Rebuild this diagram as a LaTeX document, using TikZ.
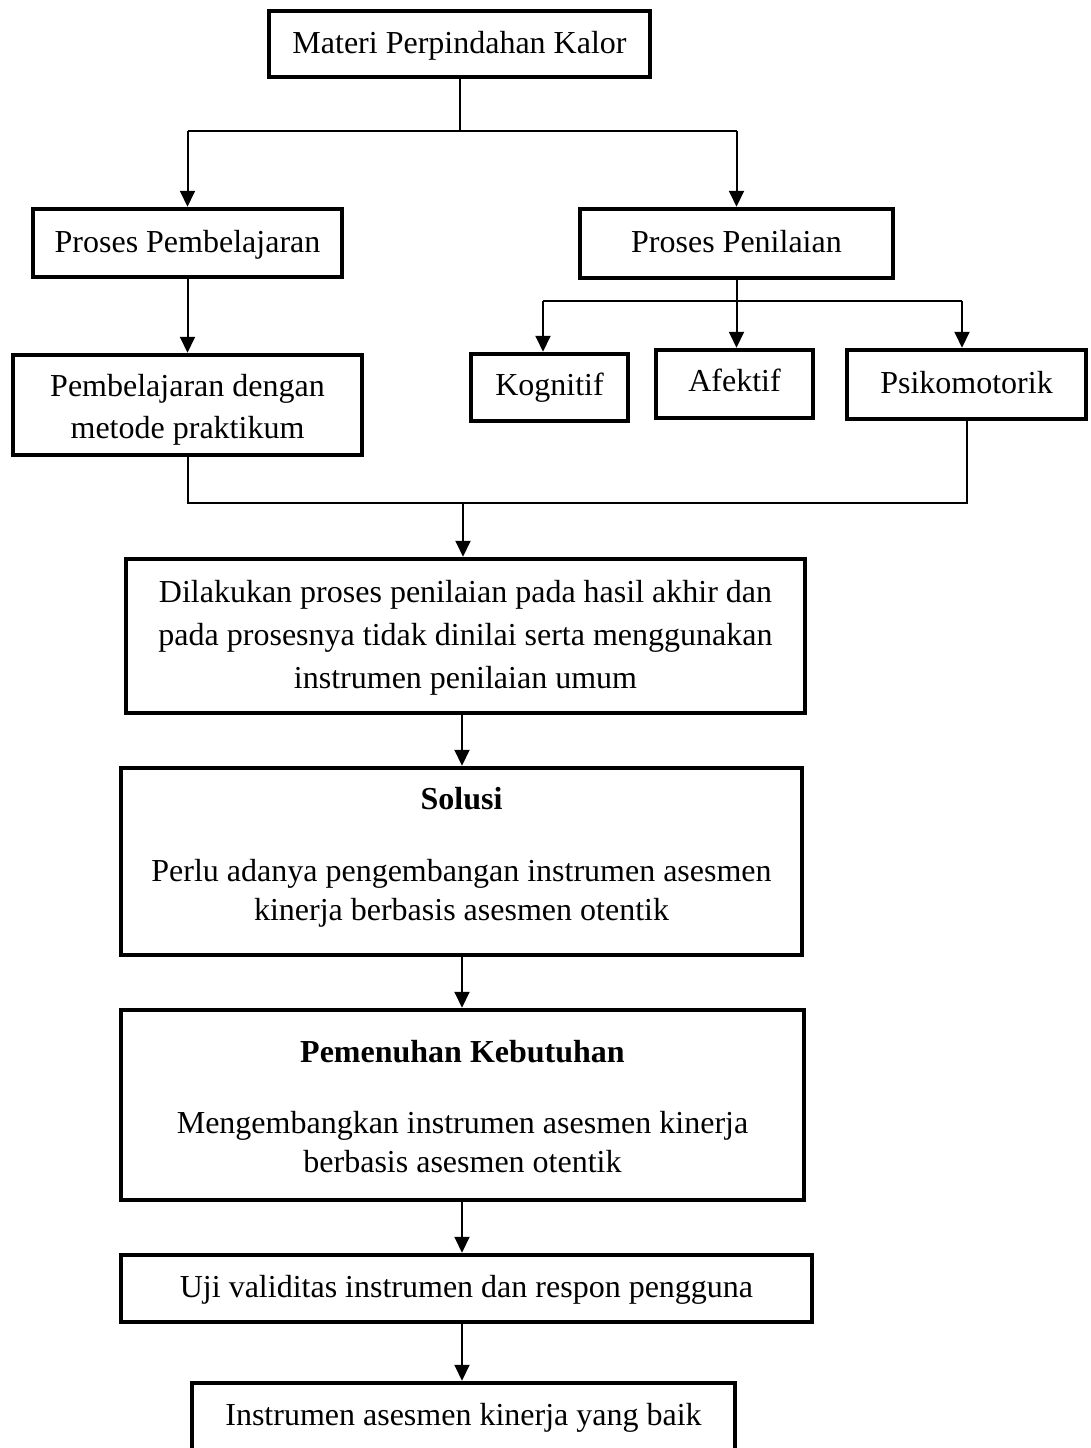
\documentclass[tikz,border=0pt]{standalone}
\usepackage{fontspec}
\setmainfont{Liberation Serif}
\usetikzlibrary{arrows.meta}
\tikzset{
  boxnode/.style={draw, line width=4.5pt, inner sep=0pt, minimum width=#1},
  conn/.style={line width=2pt},
  arr/.style={line width=2pt, -{Triangle[width=15pt,length=16pt]}},
  txt/.style={anchor=base, inner sep=0pt, font=\fontsize{32}{40}\selectfont},
  btxt/.style={anchor=base, inner sep=0pt, font=\fontsize{32}{40}\selectfont\bfseries}
}
\newcommand{\mybox}[5]{% name, x1, y1, x2, y2
  \node[draw, line width=4.5pt, inner sep=0pt, minimum width={#4-#2}, minimum height={#5-#3}] (#1) at ({(#2+#4)/2},{(#3+#5)/2}) {};}
\begin{document}
\begin{tikzpicture}[x=1pt,y=-1pt]
\useasboundingbox (0,0) rectangle (1091,1448);
\clip (0,0) rectangle (1091,1448);
\fill[white] (0,0) rectangle (1091,1448);
% boxes
\mybox{materi}{269}{11}{650}{77}
\mybox{pemb}{33}{209}{342}{277}
\mybox{peni}{580}{209}{893}{278}
\mybox{prak}{13}{355}{362}{455}
\mybox{kog}{471}{354}{628}{421}
\mybox{afe}{656}{350}{813}{418}
\mybox{psi}{847}{350}{1086}{419}
\mybox{dil}{126}{559}{805}{713}
\mybox{sol}{121}{768}{802}{955}
\mybox{pem}{121}{1010}{804}{1200}
\mybox{uji}{121}{1255}{812}{1322}
\mybox{ins}{192}{1383}{735}{1490}
% texts
\node[txt] (tmateri) at (459.5,53) {Materi Perpindahan Kalor};
\node[txt] (tpemb) at (187.5,252) {Proses Pembelajaran};
\node[txt] (tpeni) at (736.5,252) {Proses Penilaian};
\node[txt] (tprak1) at (187.5,396) {Pembelajaran dengan};
\node[txt] (tprak2) at (187.5,438) {metode praktikum};
\node[txt] (tkog) at (549.5,395) {Kognitif};
\node[txt] (tafe) at (734.5,391) {Afektif};
\node[txt] (tpsi) at (966.5,393) {Psikomotorik};
\node[txt] (tdil1) at (465.5,602) {Dilakukan proses penilaian pada hasil akhir dan};
\node[txt] (tdil2) at (465.5,645) {pada prosesnya tidak dinilai serta menggunakan};
\node[txt] (tdil3) at (465.5,688) {instrumen penilaian umum};
\node[btxt] (tsol0) at (461.5,809) {Solusi};
\node[txt] (tsol1) at (461.5,881) {Perlu adanya pengembangan instrumen asesmen};
\node[txt] (tsol2) at (461.5,920) {kinerja berbasis asesmen otentik};
\node[btxt] (tpem0) at (462.5,1062) {Pemenuhan Kebutuhan};
\node[txt] (tpem1) at (462.5,1133) {Mengembangkan instrumen asesmen kinerja};
\node[txt] (tpem2) at (462.5,1172) {berbasis asesmen otentik};
\node[txt] (tuji) at (466.5,1297) {Uji validitas instrumen dan respon pengguna};
\node[txt] (tins) at (463.5,1425) {Instrumen asesmen kinerja yang baik};
% connectors
\coordinate (j1) at (460,131);
\draw[conn] (materi.south -| j1) -- (j1);
\draw[conn] (pemb.north |- j1) -- (peni.north |- j1);
\draw[arr] (pemb.north |- j1) -- (pemb.north);
\draw[arr] (peni.north |- j1) -- (peni.north);
\draw[arr] (pemb.south) -- (prak.north);
\coordinate (j2) at (736.5,301);
\coordinate (kogin) at (543,301);
\coordinate (psiin) at (962,301);
\draw[arr] (peni.south) -- (peni.south |- afe.north);
\draw[conn] (kogin) -- (psiin);
\draw[arr] (kogin) -- (kogin |- kog.north);
\draw[arr] (psiin) -- (psiin |- psi.north);
\coordinate (j3) at (463,503);
\draw[conn] (prak.south) |- (psi.south |- j3) -- (psi.south);
\draw[arr] (j3) -- (j3 |- dil.north);
\draw[arr] (dil.south -| 462,0) -- (sol.north -| 462,0);
\draw[arr] (sol.south -| 462,0) -- (pem.north -| 462,0);
\draw[arr] (pem.south -| 462,0) -- (uji.north -| 462,0);
\draw[arr] (uji.south -| 462,0) -- (ins.north -| 462,0);
\end{tikzpicture}
\end{document}
